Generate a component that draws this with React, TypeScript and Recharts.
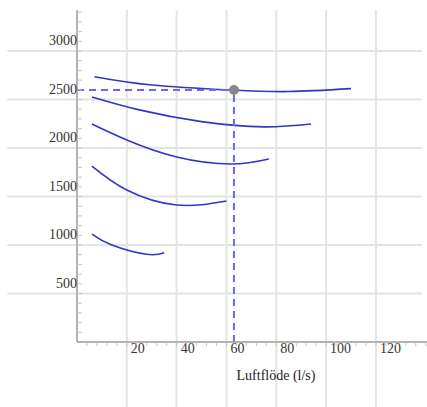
import React from "react";
import { ComposedChart, Line, XAxis, YAxis, ReferenceLine, ReferenceDot } from "recharts";

// fan curves
const curve1 = [
  { x: 7, y: 2735 }, { x: 30, y: 2650 }, { x: 62, y: 2598 }, { x: 85, y: 2582 }, { x: 110, y: 2612 },
];
const curve2 = [
  { x: 6, y: 2526 }, { x: 25, y: 2393 }, { x: 50, y: 2272 }, { x: 75, y: 2218 }, { x: 94, y: 2247 },
];
const curve3 = [
  { x: 6, y: 2247 }, { x: 20, y: 2082 }, { x: 40, y: 1907 }, { x: 62, y: 1835 }, { x: 77, y: 1887 },
];
const curve4 = [
  { x: 6, y: 1814 }, { x: 20, y: 1567 }, { x: 40, y: 1412 }, { x: 60, y: 1454 },
];
const curve5 = [
  { x: 6, y: 1113 }, { x: 14, y: 1000 }, { x: 28, y: 904 }, { x: 35, y: 920 },
];
const curves = [curve1, curve2, curve3, curve4, curve5];

const operatingPoint = { x: 63, y: 2598 };

const xMajor = [20, 40, 60, 80, 100, 120];
const yMajor = [500, 1000, 1500, 2000, 2500, 3000];
const xMinorStep = 4;
const yMinorStep = 100;
const xMax = 140.5;
const yMax = 3423;

const xTicks = Array.from({ length: Math.floor(xMax / xMinorStep) }, (_, i) => (i + 1) * xMinorStep);
const yTicks = Array.from({ length: Math.floor(yMax / yMinorStep) }, (_, i) => (i + 1) * yMinorStep);

const FONT = "'Liberation Serif', 'DejaVu Serif', serif";
const GRID = "#e4e4e4";
const AXIS = "#9a9a9a";
const CURVE = "#3434c8";
const DASH = "#6a6af0";

function XTick({ x, y, payload }: any) {
  const v = payload.value;
  return (
    <g>
      <line x1={x} y1={y} x2={x} y2={y + 4} stroke="#c4c4c4" strokeWidth={1} />
      {xMajor.includes(v) && (
        <text x={x + 4} y={y + 11} textAnchor="start" fontSize={14} fontFamily={FONT} fill="#333">
          {v}
        </text>
      )}
    </g>
  );
}

function YTick({ x, y, payload }: any) {
  const v = payload.value;
  return (
    <g>
      <line x1={x} y1={y} x2={x + 5} y2={y} stroke="#c4c4c4" strokeWidth={1} />
      {yMajor.includes(v) && (
        <text x={x} y={y - 6} textAnchor="end" fontSize={14} fontFamily={FONT} fill="#333">
          {v}
        </text>
      )}
    </g>
  );
}

export default function App() {
  return (
    <div style={{ position: "absolute", left: 0, top: 0, width: 427, height: 407, background: "#fff" }}>
      <ComposedChart width={427} height={407} margin={{ top: 10, right: 0, bottom: 20, left: 0 }} style={{ fontFamily: FONT }}>
        <XAxis
          dataKey="x"
          type="number"
          domain={[0, xMax]}
          allowDataOverflow
          ticks={xTicks}
          interval={0}
          tick={<XTick />}
          tickLine={false}
          tickSize={0}
          tickMargin={0}
          height={45}
          axisLine={{ stroke: AXIS, strokeWidth: 1.5 }}
          label={{ value: "Luftflöde (l/s)", position: "insideBottom", offset: 7, dx: 24, fontSize: 14, fill: "#222", fontFamily: FONT }}
        />
        <YAxis
          dataKey="y"
          type="number"
          domain={[0, yMax]}
          allowDataOverflow
          ticks={yTicks}
          interval={0}
          tick={<YTick />}
          tickLine={false}
          tickSize={0}
          tickMargin={0}
          width={77}
          axisLine={{ stroke: AXIS, strokeWidth: 1.5 }}
        />
        {xMajor.map((v) => (
          <ReferenceLine
            key={"gx" + v}
            segment={[{ x: v, y: -700 }, { x: v, y: yMax }]}
            ifOverflow="visible"
            stroke={GRID}
            strokeWidth={2}
            zIndex={-100}
          />
        ))}
        {yMajor.map((v) => (
          <ReferenceLine
            key={"gy" + v}
            segment={[{ x: -28, y: v }, { x: 138.5, y: v }]}
            ifOverflow="visible"
            stroke={GRID}
            strokeWidth={2}
            zIndex={-100}
          />
        ))}
        {curves.map((c, i) => (
          <Line
            key={i}
            data={c}
            dataKey="y"
            type="natural"
            stroke={CURVE}
            strokeWidth={1.6}
            dot={false}
            activeDot={false}
            isAnimationActive={false}
          />
        ))}
        <ReferenceLine
          segment={[{ x: 0, y: operatingPoint.y }, { x: operatingPoint.x, y: operatingPoint.y }]}
          stroke={DASH}
          strokeWidth={2}
          strokeDasharray="7 5"
        />
        <ReferenceLine
          segment={[{ x: operatingPoint.x, y: 0 }, { x: operatingPoint.x, y: operatingPoint.y }]}
          stroke={DASH}
          strokeWidth={2}
          strokeDasharray="7 5"
        />
        <ReferenceDot x={operatingPoint.x} y={operatingPoint.y} r={5} fill="#888" stroke="none" />
      </ComposedChart>
    </div>
  );
}
